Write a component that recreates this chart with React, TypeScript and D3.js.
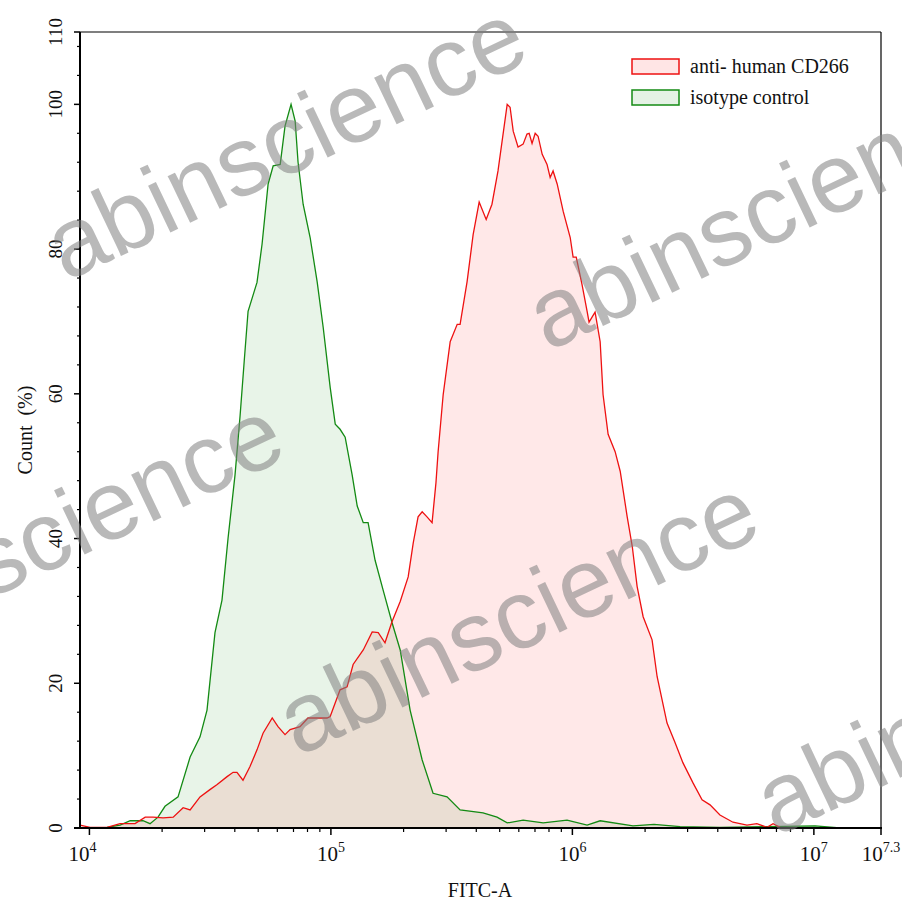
import React from 'react';
import * as d3 from 'd3';

// FITC-A values are stored as log10, counts as % of max
const isoLog = [3.961, 4.073, 4.127, 4.169, 4.222, 4.251, 4.284, 4.313, 4.367, 4.417, 4.458, 4.487, 4.52, 4.549, 4.574, 4.603, 4.624, 4.641, 4.657, 4.694, 4.715, 4.74, 4.761, 4.79, 4.81, 4.835, 4.852, 4.864, 4.885, 4.914, 4.943, 4.968, 4.997, 5.018, 5.038, 5.059, 5.088, 5.109, 5.134, 5.154, 5.183, 5.216, 5.253, 5.287, 5.328, 5.378, 5.423, 5.481, 5.535, 5.63, 5.688, 5.73, 5.796, 5.879, 5.978, 6.061, 6.115, 6.251, 6.338, 6.446, 6.611, 6.818, 7.005, 7.108, 7.278];
const isoPct = [0, 0.1, 0.4, 1.0, 1.0, 0.6, 1.5, 3.0, 4.3, 9.8, 12.6, 16.3, 27, 31.5, 40, 48.8, 57, 64.5, 71.4, 75.4, 80.7, 89, 91.5, 91.7, 97, 100, 97.7, 92, 86.2, 81.6, 75.5, 69.2, 60.9, 55.8, 55.1, 54, 48.8, 44.5, 42.2, 42.2, 37, 32.9, 28.4, 24.6, 16.3, 9.4, 4.8, 4.3, 2.5, 2.1, 1.5, 0.7, 1.1, 0.7, 1.1, 0.4, 1.0, 0.3, 0.5, 0.2, 0.1, 0.2, 0.3, 0, 0];

const cdLog = [3.961, 4.003, 4.073, 4.127, 4.189, 4.231, 4.264, 4.305, 4.347, 4.388, 4.417, 4.458, 4.499, 4.529, 4.57, 4.595, 4.611, 4.636, 4.665, 4.694, 4.719, 4.757, 4.781, 4.81, 4.831, 4.872, 4.905, 4.984, 4.997, 5.038, 5.067, 5.092, 5.134, 5.171, 5.196, 5.224, 5.253, 5.287, 5.32, 5.341, 5.361, 5.378, 5.398, 5.419, 5.435, 5.444, 5.465, 5.494, 5.523, 5.535, 5.564, 5.589, 5.614, 5.643, 5.667, 5.692, 5.73, 5.742, 5.755, 5.775, 5.796, 5.812, 5.821, 5.833, 5.846, 5.858, 5.875, 5.895, 5.908, 5.92, 5.937, 5.962, 5.991, 6.003, 6.016, 6.04, 6.061, 6.069, 6.094, 6.115, 6.127, 6.148, 6.177, 6.198, 6.227, 6.248, 6.268, 6.293, 6.33, 6.351, 6.392, 6.425, 6.458, 6.5, 6.537, 6.57, 6.611, 6.665, 6.723, 6.764, 6.806, 6.831, 6.86, 6.943, 7.278];
const cdPct = [0.4, 0.1, 0.1, 0.6, 0.6, 1.5, 1.5, 1.4, 1.5, 2.8, 2.5, 4.3, 5.3, 6, 7.1, 7.7, 7.7, 6.6, 8.5, 10.8, 13.1, 15.2, 14, 12.9, 13.6, 14, 15.2, 15.2, 15.4, 19.1, 19.5, 22.6, 24.6, 27.1, 27, 25.6, 28.5, 31.3, 34.7, 39.4, 43, 43.7, 43, 42.2, 47.7, 52, 59.9, 67.2, 69.6, 69.6, 75.5, 82, 86.5, 84.1, 86.2, 90.8, 100, 99.6, 96.3, 94.1, 94.5, 95.9, 96, 94.6, 96, 95.6, 93.1, 91.7, 89.9, 90.8, 89, 85.2, 81.6, 78.9, 78.9, 75.1, 71.4, 69.9, 71.3, 67.2, 59.9, 54.4, 52, 49.3, 43, 38.9, 33.4, 29.2, 26, 20.9, 14.5, 11.8, 9, 6.2, 3.9, 3.2, 1.8, 0.8, 0.4, 0.6, 0.1, 0.6, 0.1, 0, 0];

const seriesNames = ['anti- human CD266', 'isotype control'];
const xMajorExp = [4, 5, 6, 7];
const xEndExp = 7.3;
const yMajor = [0, 20, 40, 60, 80, 100, 110];

const W = 902;
const H = 906;
const left = 80, right = 881, top = 32, bottom = 828;

const serif = '"Liberation Serif", "Times New Roman", serif';
const sans = '"Liberation Sans", Arial, sans-serif';

export default function App() {
  const x = d3.scaleLog().domain([10 ** 3.961, 10 ** 7.278]).range([left, right]);
  const y = d3.scaleLinear().domain([0, 110]).range([bottom, top]);

  const iso = isoLog.map((l, i) => [l, isoPct[i]] as [number, number]);
  const cd = cdLog.map((l, i) => [l, cdPct[i]] as [number, number]);

  const area = d3.area<[number, number]>()
    .x(d => x(10 ** d[0]))
    .y0(y(0))
    .y1(d => y(d[1]));
  const line = d3.line<[number, number]>()
    .x(d => x(10 ** d[0]))
    .y(d => y(d[1]));

  const minorX: number[] = [];
  [4, 5, 6].forEach(e => {
    for (let k = 2; k <= 9; k++) minorX.push(k * 10 ** e);
  });
  const minorY = d3.range(4, 110, 4).filter(v => v % 20 !== 0);

  // watermark centres (page decoration of the source image)
  const marks = [[285, 140], [517, 615], [767, 210], [42, 537], [995, 695], [-240, 85]];

  return (
    <svg width={W} height={H} style={{ position: 'absolute', left: 0, top: 0, background: '#fff' }}>
      <defs>
        <clipPath id="plot">
          <rect x={left} y={top} width={right - left} height={bottom - top} />
        </clipPath>
      </defs>
      <g clipPath="url(#plot)">
        <path d={area(iso) || ''} fill="rgb(0,128,0)" fillOpacity={0.09} />
        <path d={area(cd) || ''} fill="rgb(255,0,0)" fillOpacity={0.09} />
        <path d={line(iso) || ''} fill="none" stroke="#138a13" strokeWidth={1.3} />
        <path d={line(cd) || ''} fill="none" stroke="#ee1111" strokeWidth={1.3} />
      </g>

      {/* frame */}
      <line x1={left} x2={right} y1={top} y2={top} stroke="#000" strokeWidth={1.2} />
      <line x1={right} x2={right} y1={top} y2={bottom} stroke="#000" strokeWidth={1.2} />
      <line x1={left} x2={left} y1={top} y2={bottom} stroke="#000" strokeWidth={2} />
      <line x1={left - 6} x2={right + 1} y1={bottom} y2={bottom} stroke="#000" strokeWidth={2} />

      {/* y ticks */}
      {yMajor.map(v => (
        <g key={'ym' + v}>
          <line x1={left - 6} x2={left} y1={y(v)} y2={y(v)} stroke="#000" strokeWidth={1.5} />
          <text transform={`translate(62,${y(v)}) rotate(-90)`} textAnchor="middle"
            fontFamily={serif} fontSize={19} fill="#111">{v}</text>
        </g>
      ))}
      {minorY.map(v => (
        <line key={'yn' + v} x1={left - 3} x2={left} y1={y(v)} y2={y(v)} stroke="#000" strokeWidth={1.2} />
      ))}

      {/* x ticks */}
      {minorX.map(v => (
        <line key={'xn' + v} x1={x(v)} x2={x(v)} y1={bottom} y2={bottom + 4} stroke="#000" strokeWidth={1.2} />
      ))}
      {[...xMajorExp, xEndExp].map((e, i) => {
        const px = i < xMajorExp.length ? x(10 ** e) : right;
        return (
          <g key={'xm' + e}>
            <line x1={px} x2={px} y1={bottom} y2={bottom + 7} stroke="#000" strokeWidth={1.5} />
            <text x={px} dx={i === 0 ? -7 : 0} y={861} textAnchor="middle" fontFamily={serif} fill="#111">
              <tspan fontSize={21}>10</tspan>
              <tspan fontSize={14} dy={-9}>{String(e)}</tspan>
            </text>
          </g>
        );
      })}

      {/* axis titles */}
      <text x={480} y={897} textAnchor="middle" fontFamily={serif} fontSize={20} fill="#111">FITC-A</text>
      <text transform={`translate(32,${(top + bottom) / 2}) rotate(-90)`} textAnchor="middle"
        fontFamily={serif} fontSize={20} fill="#111" style={{ whiteSpace: 'pre' }}>{'Count  (%)'}</text>

      {/* legend */}
      <rect x={632} y={59} width={47} height={15} fill="rgb(255,0,0)" fillOpacity={0.1} stroke="#ee1111" strokeWidth={1.5} />
      <text x={690} y={73} fontFamily={serif} fontSize={20} fill="#111">{seriesNames[0]}</text>
      <rect x={632} y={90} width={47} height={15} fill="rgb(0,128,0)" fillOpacity={0.1} stroke="#138a13" strokeWidth={1.5} />
      <text x={690} y={104} fontFamily={serif} fontSize={20} fill="#111">{seriesNames[1]}</text>

      {/* watermarks */}
      {marks.map(([cx, cy], i) => (
        <text key={'wm' + i} transform={`translate(${cx},${cy}) rotate(-25.5)`} textAnchor="middle"
          dominantBaseline="central" fontFamily={sans} fontSize={98} fill="#808080" fillOpacity={0.55}>
          abinscience
        </text>
      ))}
    </svg>
  );
}
